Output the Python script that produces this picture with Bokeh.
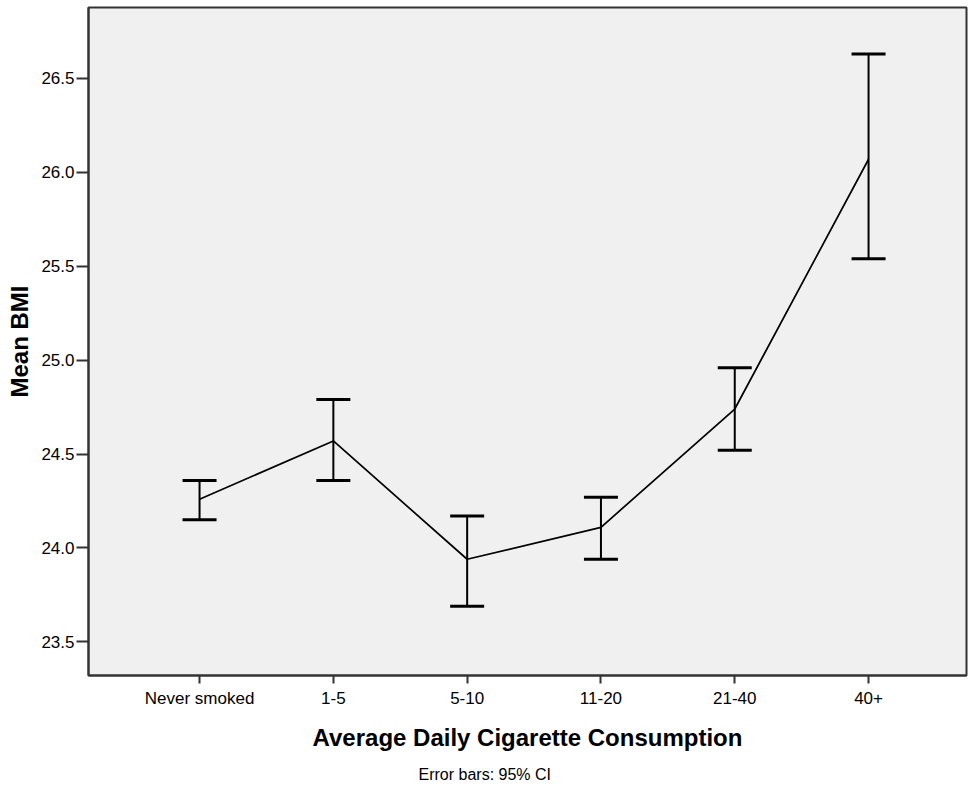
from bokeh.plotting import figure
from bokeh.models import (ColumnDataSource, Whisker, TeeHead, FixedTicker, Range1d,
                          Title, PrintfTickFormatter)
from bokeh.embed import file_html
from bokeh.resources import INLINE

categories = ["Never smoked", "1-5", "5-10", "11-20", "21-40", "40+"]
mean_bmi = [24.26, 24.57, 23.94, 24.11, 24.74, 26.07]
ci_lower = [24.15, 24.36, 23.69, 23.94, 24.52, 25.54]
ci_upper = [24.36, 24.79, 24.17, 24.27, 24.96, 26.63]
y_ticks = [23.5, 24.0, 24.5, 25.0, 25.5, 26.0, 26.5]

xpos = list(range(len(categories)))
src = ColumnDataSource(dict(x=xpos, mean=mean_bmi, lower=ci_lower, upper=ci_upper))

FONT = "Liberation Sans"

p = figure(width=968, height=793, output_backend="svg", toolbar_location=None,
           x_range=Range1d(-0.83, 5.732), y_range=Range1d(23.321, 26.878),
           min_border_left=88, min_border_right=2, min_border_top=7, min_border_bottom=118)

p.background_fill_color = "#f0f0f0"
p.border_fill_color = "white"
p.outline_line_color = "#333333"
p.outline_line_width = 2
p.xgrid.visible = False
p.ygrid.visible = False

p.line("x", "mean", source=src, line_color="black", line_width=1.7)

tee_up = TeeHead(size=34, line_width=3, line_color="black")
tee_lo = TeeHead(size=34, line_width=3, line_color="black")
w = Whisker(base="x", upper="upper", lower="lower", source=src,
            line_color="black", line_width=2, upper_head=tee_up, lower_head=tee_lo)
p.add_layout(w)

# x axis
p.xaxis.ticker = FixedTicker(ticks=xpos)
p.xaxis.major_label_overrides = {i: c for i, c in zip(xpos, categories)}
p.xaxis.minor_tick_line_color = None
p.xaxis.major_tick_out = 8
p.xaxis.major_tick_in = 0
p.xaxis.major_tick_line_width = 2
p.xaxis.major_tick_line_color = "#333333"
p.xaxis.axis_line_color = "#333333"
p.xaxis.axis_line_width = 2
p.xaxis.major_label_text_font = FONT
p.xaxis.major_label_text_font_size = "17px"
p.xaxis.major_label_text_color = "black"
p.xaxis.major_label_standoff = 5
p.xaxis.axis_label = "Average Daily Cigarette Consumption"
p.xaxis.axis_label_text_font = FONT
p.xaxis.axis_label_text_font_size = "24px"
p.xaxis.axis_label_text_font_style = "bold"
p.xaxis.axis_label_text_color = "black"
p.xaxis.axis_label_standoff = 13

# y axis
p.yaxis.ticker = FixedTicker(ticks=y_ticks)
p.yaxis.formatter = PrintfTickFormatter(format="%.1f")
p.yaxis.minor_tick_line_color = None
p.yaxis.major_tick_out = 12
p.yaxis.major_tick_in = 0
p.yaxis.major_tick_line_width = 2
p.yaxis.major_tick_line_color = "#333333"
p.yaxis.axis_line_color = "#333333"
p.yaxis.axis_line_width = 2
p.yaxis.major_label_text_font = FONT
p.yaxis.major_label_text_font_size = "17px"
p.yaxis.major_label_text_color = "black"
p.yaxis.major_label_standoff = 2
p.yaxis.axis_label = "Mean BMI"
p.yaxis.axis_label_text_font = FONT
p.yaxis.axis_label_text_font_size = "24px"
p.yaxis.axis_label_text_font_style = "bold"
p.yaxis.axis_label_text_color = "black"
p.yaxis.axis_label_standoff = 5

note = Title(text="Error bars: 95% CI", align="left", offset=330,
             text_font=FONT, text_font_size="16px", text_font_style="normal",
             text_color="black", standoff=20)
p.add_layout(note, "below")

open("out.html", "w").write(file_html(p, INLINE))
